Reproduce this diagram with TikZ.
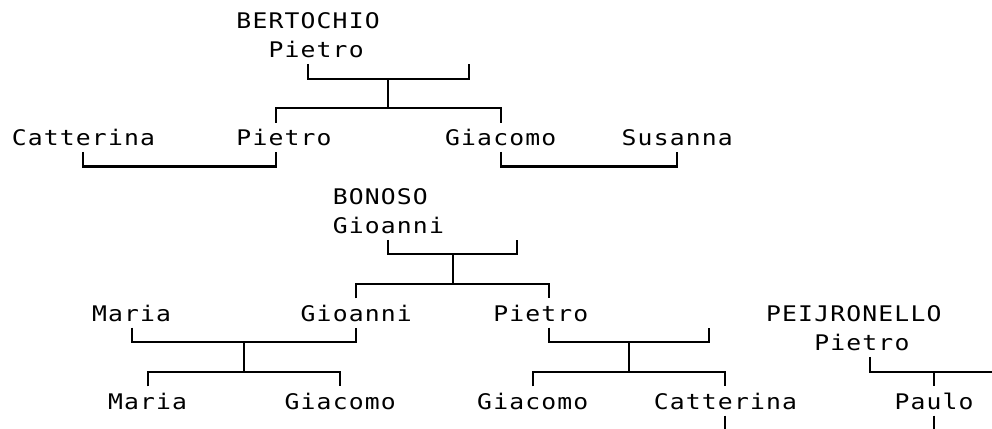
\documentclass[tikz,border=0pt]{standalone}
\usepackage{fontspec}
\newfontfamily\monofont[FakeStretch=1.15]{DejaVu Sans Mono}
\newlength\cellw
\setlength\cellw{16.05pt}
\makeatletter
\newcommand\cells[1]{\@tfor\@ch:=#1\do{\makebox[\cellw][c]{\@ch}}}
\makeatother
\tikzset{
  person/.style={inner sep=0pt, outer sep=0pt, anchor=base west,
    font=\monofont\fontsize{21.5pt}{25pt}\selectfont},
  link/.style={line width=2.1pt, line cap=butt, line join=miter},
}
\begin{document}
\begin{tikzpicture}[x=16.05pt, y=-29.3pt]
\useasboundingbox (-1.1963,-0.6826) rectangle (60.6106,13.9249);
% ---- names ----
\node[person] (bertochio) at (13.5,0.28) {\cells{BERTOCHIO}};
\node[person] (pietroB)   at (15.5,1.28) {\cells{Pietro}};
\node[person] (catterinaA) at (-0.5,4.28) {\cells{Catterina}};
\node[person] (pietroA)   at (13.5,4.28) {\cells{Pietro}};
\node[person] (giacomoA)  at (26.5,4.28) {\cells{Giacomo}};
\node[person] (susanna)   at (37.5,4.28) {\cells{Susanna}};
\node[person] (bonoso)    at (19.5,6.28) {\cells{BONOSO}};
\node[person] (gioanniB)  at (19.5,7.28) {\cells{Gioanni}};
\node[person] (mariaA)    at (4.5,10.28) {\cells{Maria}};
\node[person] (gioanniA)  at (17.5,10.28) {\cells{Gioanni}};
\node[person] (pietroC)   at (29.5,10.28) {\cells{Pietro}};
\node[person] (peijronello) at (46.5,10.28) {\cells{PEIJRONELLO}};
\node[person] (pietroP)   at (49.5,11.28) {\cells{Pietro}};
\node[person] (mariaB)    at (5.5,13.28) {\cells{Maria}};
\node[person] (giacomoB)  at (16.5,13.28) {\cells{Giacomo}};
\node[person] (giacomoC)  at (28.5,13.28) {\cells{Giacomo}};
\node[person] (catterinaB) at (39.5,13.28) {\cells{Catterina}};
\node[person] (paulo)     at (54.5,13.28) {\cells{Paulo}};
% ---- junction coordinates ----
\coordinate (p1L) at (18,1.5);  \coordinate (p1R) at (28,1.5);  \coordinate (p1M) at (23,2);
\coordinate (k1M) at (23,3);    \coordinate (k1L) at (16,3.5);  \coordinate (k1R) at (30,3.5);
\coordinate (s1L) at (4,4.5);   \coordinate (s1R) at (16,4.5);  \coordinate (s1M) at (4,5);
\coordinate (s2L) at (30,4.5);  \coordinate (s2R) at (41,4.5);  \coordinate (s2M) at (30,5);
\coordinate (p2L) at (23,7.5);  \coordinate (p2R) at (31,7.5);  \coordinate (p2M) at (27,8);
\coordinate (k2M) at (27,9);    \coordinate (k2L) at (21,9.5);  \coordinate (k2R) at (33,9.5);
\coordinate (p3L) at (7,10.5);  \coordinate (p3R) at (21,10.5); \coordinate (p3M) at (14,11);
\coordinate (k3M) at (14,12);   \coordinate (k3L) at (8,12.5);  \coordinate (k3R) at (20,12.5);
\coordinate (p4L) at (33,10.5); \coordinate (p4R) at (43,10.5); \coordinate (p4M) at (38,11);
\coordinate (k4M) at (38,12);   \coordinate (k4L) at (32,12.5); \coordinate (k4R) at (44,12.5);
\coordinate (p5L) at (53,11.5); \coordinate (p5M) at (57,12);   \coordinate (p5R) at (61.5,12);
\coordinate (k5)  at (57,12.5);
\coordinate (d1T) at (44,13.5); \coordinate (d1B) at (44,14.5);
\coordinate (d2T) at (57,13.5); \coordinate (d2B) at (57,14.5);
% ---- connectors ----
\begin{scope}
\clip (-1.1963,-0.6826) rectangle (60.6106,13.9249);
\draw[link] (p1L) |- (p1M) -| (p1R);
\draw[link] (p1M) -- (k1M);
\draw[link] (k1L) |- (k1M) -| (k1R);
\draw[link] (s1L) |- (s1M) -| (s1R);
\draw[link] (s2L) |- (s2M) -| (s2R);
\draw[link] (p2L) |- (p2M) -| (p2R);
\draw[link] (p2M) -- (k2M);
\draw[link] (k2L) |- (k2M) -| (k2R);
\draw[link] (p3L) |- (p3M) -| (p3R);
\draw[link] (p3M) -- (k3M);
\draw[link] (k3L) |- (k3M) -| (k3R);
\draw[link] (p4L) |- (p4M) -| (p4R);
\draw[link] (p4M) -- (k4M);
\draw[link] (k4L) |- (k4M) -| (k4R);
\draw[link] (p5L) |- (p5R);
\draw[link] (p5M) -- (k5);
\draw[link] (d1T) -- (d1B);
\draw[link] (d2T) -- (d2B);
\end{scope}
\end{tikzpicture}
\end{document}
